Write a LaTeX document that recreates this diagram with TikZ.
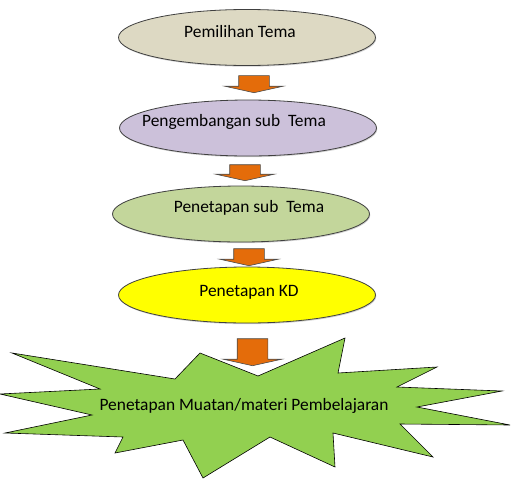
\documentclass[tikz,border=0pt]{standalone}
\usepackage{fontspec}
\setmainfont{Carlito}
\usepackage{tikz}
\usetikzlibrary{shapes.geometric,shapes.arrows,shadows}
\definecolor{temabg}{HTML}{DDD9C3}
\definecolor{subbg}{HTML}{CCC1DA}
\definecolor{tetapbg}{HTML}{C3D69B}
\definecolor{kdbg}{HTML}{FFFF00}
\definecolor{starbg}{HTML}{92D050}
\definecolor{arrowbg}{HTML}{E46C0A}
\tikzstyle{stepnode} = [ellipse, minimum width=257pt, minimum height=56pt, inner sep=0pt,
draw=black!75, line width=0.8pt, drop shadow={opacity=0.35, shadow xshift=0.8pt, shadow yshift=-1.2pt}]
\tikzstyle{steptext} = [font=\fontsize{17.4}{20}\selectfont, inner sep=0pt]
\tikzstyle{blockarrow} = [single arrow, rotate=-90, fill=arrowbg, draw=black!70, line width=0.6pt,
inner xsep=0pt, inner ysep=15pt, single arrow head extend=14pt, single arrow tip angle=155]

\begin{document}
\begin{tikzpicture}[x=1pt, y=-1pt]
      \useasboundingbox (0,0) rectangle (527,493);
      \node (0) [stepnode, fill=temabg] at (247,37.5) {};
      \node (1) [stepnode, fill=subbg] at (248,128) {};
      \node (2) [stepnode, fill=tetapbg] at (241,214) {};
      \node (3) [stepnode, fill=kdbg] at (247,295) {};
      \node [steptext] at (240,32) {Pemilihan Tema};
      \node [steptext] at (234,122) {Pengembangan sub\ \ Tema};
      \node [steptext] at (249,208) {Penetapan sub\ \ Tema};
      \node [steptext] at (249,292) {Penetapan KD};

      % block arrows between the steps
      \node (a0) [blockarrow, minimum height=17pt] at (254,82.5) {};
      \node (a1) [blockarrow, minimum height=16pt] at (245,171) {};
      \node (a2) [blockarrow, minimum height=17pt] at (249,255.5) {};
      \node (a3) [blockarrow, minimum height=27pt] at (252.5,350.5) {};

      % starburst
      \draw [fill=starbg, draw=black, line width=0.6pt]
        (12,353) -- (175,379) -- (200,353) -- (258,376) -- (345,338) -- (338,373)
        -- (437,367) -- (397,387) -- (502,391) -- (417,407) -- (510,425) -- (400,424)
        -- (433,457) -- (333,433) -- (335,467) -- (270,437) -- (203,478) -- (183,440)
        -- (115,453) -- (123,437) -- (5,433) -- (92,415) -- (0,394) -- (100,389) -- cycle;
      \node (4) [steptext] at (244,406) {Penetapan Muatan/materi Pembelajaran};
    \end{tikzpicture}
\end{document}
